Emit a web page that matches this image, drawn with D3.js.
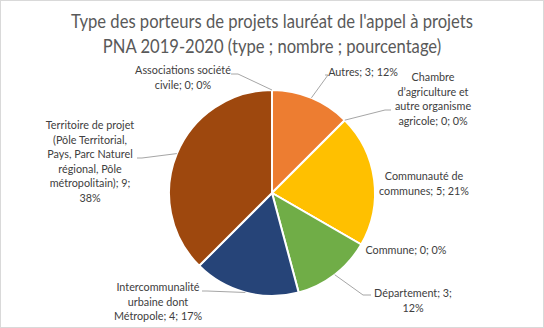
<!DOCTYPE html>
<html>
<head>
<meta charset="utf-8">
<script src="https://cdn.jsdelivr.net/npm/d3@7"></script>
<style>
  html, body { margin: 0; padding: 0; background: #fff; }
  svg { display: block; }
  text { font-family: Lato, "Open Sans", sans-serif; }
</style>
</head>
<body>
<svg id="chart" width="544" height="328"></svg>
<script>
// ---- data ----
const categories = [
  "Autres",
  "Chambre d’agriculture et autre organisme agricole",
  "Communauté de communes",
  "Commune",
  "Département",
  "Intercommunalité urbaine dont Métropole",
  "Territoire de projet (Pôle Territorial, Pays, Parc Naturel régional, Pôle métropolitain)",
  "Associations société civile"
];
const values = [3, 0, 5, 0, 3, 4, 9, 0];
const percentLabels = ["12%", "0%", "21%", "0%", "12%", "17%", "38%", "0%"];
const labelLines = [
  ["Autres; 3; 12%"],
  ["Chambre", "d’agriculture et", "autre organisme", "agricole; 0; 0%"],
  ["Communauté de", "communes; 5; 21%"],
  ["Commune; 0; 0%"],
  ["Département; 3;", "12%"],
  ["Intercommunalité", "urbaine dont", "Métropole; 4; 17%"],
  ["Territoire de projet", "(Pôle Territorial,", "Pays, Parc Naturel", "régional, Pôle", "métropolitain); 9;", "38%"],
  ["Associations société", "civile; 0; 0%"]
];
const titleLines = [
  "Type des porteurs de projets lauréat de l'appel à projets",
  "PNA 2019-2020 (type ; nombre ; pourcentage)"
];

// ---- style / layout (separate from data) ----
const colors = ["#ED7D31", "#A5A5A5", "#FFC000", "#4472C4", "#70AD47", "#264478", "#9E480E", "#636363"];
const W = 544, H = 328;
const cx = 272, cy = 193, R = 103;
const lineH = 14.6;
const labelSX = 0.9, titleSX = 0.89;
// label block: center x, first-line visual center y
const labelPos = [
  {x: 363, y: 72},
  {x: 433, y: 77},
  {x: 424, y: 176},
  {x: 406, y: 250},
  {x: 413, y: 293},
  {x: 158, y: 287},
  {x: 90,  y: 125},
  {x: 183, y: 70}
];
// leader: [text-side end point, elbow point]; null = no leader
const leaderPts = [
  [[325, 75], [328, 75]],
  [[391, 110], [385, 110]],
  null,
  null,
  [[371, 295], [363, 295]],
  [[202, 291], [207, 291]],
  [[137, 158], [142, 158]],
  [[231, 74], [238, 74]]
];

const svg = d3.select("#chart");
svg.append("rect").attr("x", 0.5).attr("y", 0.5).attr("width", W - 1).attr("height", H - 1)
  .attr("fill", "#fff").attr("stroke", "#D9D9D9");

// title
svg.append("g")
  .attr("transform", `translate(${cx},0) scale(${titleSX},1)`)
  .selectAll("text").data(titleLines).join("text")
  .attr("x", 0).attr("y", (d, i) => 28 + i * 25)
  .attr("text-anchor", "middle")
  .attr("font-size", 18.67).attr("fill", "#595959")
  .text(d => d);

const pie = d3.pie().sort(null).value(d => d);
const arcs = pie(values);
const arc = d3.arc().innerRadius(0).outerRadius(R);

const g = svg.append("g").attr("transform", `translate(${cx},${cy})`);
g.selectAll("path").data(arcs).join("path")
  .attr("d", arc)
  .attr("fill", (d, i) => colors[i])
  .attr("stroke", "#fff").attr("stroke-width", 2)
  .attr("stroke-linejoin", "round");

// leaders
arcs.forEach((a, i) => {
  const lp = leaderPts[i];
  if (!lp) return;
  const mid = (a.startAngle + a.endAngle) / 2;
  const px = cx + R * Math.sin(mid), py = cy - R * Math.cos(mid);
  svg.append("polyline")
    .attr("points", [lp[0], lp[1], [px, py]].map(p => p.join(",")).join(" "))
    .attr("fill", "none").attr("stroke", "#A6A6A6").attr("stroke-width", 1);
});

// labels
labelLines.forEach((lines, i) => {
  const t = svg.append("text")
    .attr("transform", `translate(${labelPos[i].x},0) scale(${labelSX},1)`)
    .attr("text-anchor", "middle").attr("font-size", 12).attr("fill", "#404040");
  lines.forEach((ln, j) => {
    t.append("tspan").attr("x", 0).attr("y", labelPos[i].y + 4 + j * lineH).text(ln);
  });
});
</script>
</body>
</html>
